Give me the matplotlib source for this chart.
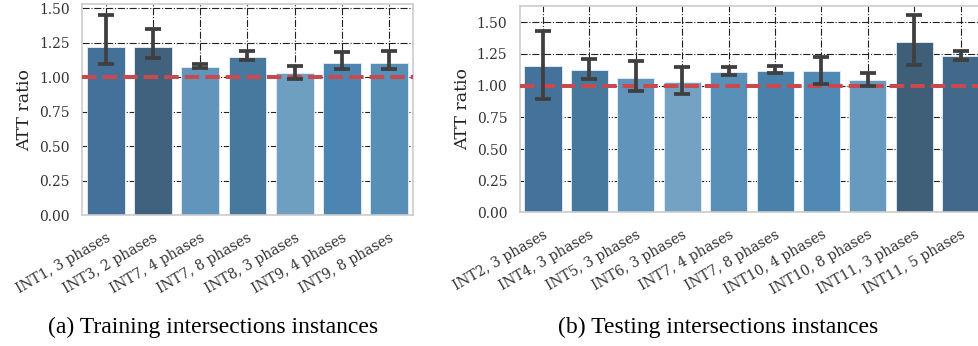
import numpy as np
import matplotlib
matplotlib.use("Agg")
import matplotlib.pyplot as plt
from matplotlib.colors import LinearSegmentedColormap

# training intersections
train_labels = ["INT1, 3 phases", "INT3, 2 phases", "INT7, 4 phases", "INT7, 8 phases",
                "INT8, 3 phases", "INT9, 4 phases", "INT9, 8 phases"]
train_mean = [1.216, 1.223, 1.074, 1.149, 1.033, 1.106, 1.105]
train_low = [1.096, 1.137, 1.067, 1.122, 0.986, 1.063, 1.058]
train_high = [1.452, 1.353, 1.098, 1.192, 1.079, 1.180, 1.187]

# testing intersections
test_labels = ["INT2, 3 phases", "INT4, 3 phases", "INT5, 3 phases", "INT6, 3 phases",
               "INT7, 4 phases", "INT7, 8 phases", "INT10, 4 phases", "INT10, 8 phases",
               "INT11, 3 phases", "INT11, 5 phases"]
test_mean = [1.153, 1.124, 1.058, 1.027, 1.110, 1.113, 1.112, 1.042, 1.345, 1.232]
test_low = [0.893, 1.053, 0.956, 0.932, 1.087, 1.100, 1.013, 0.998, 1.161, 1.203]
test_high = [1.429, 1.211, 1.192, 1.148, 1.150, 1.155, 1.229, 1.100, 1.555, 1.276]

captions = ["(a) Training intersections instances", "(b) Testing intersections instances"]

# darker bar = larger ratio
blues = LinearSegmentedColormap.from_list('blues_rank', [
    (0.0, '#7eabc7'), (0.2, '#6598bd'), (0.36, '#5990b8'), (0.5, '#4c85b2'),
    (0.63, '#47799f'), (0.75, '#44719a'), (0.9, '#3f5f79'), (1.0, '#3c5a72')])


def rank_colors(values):
    n = len(values)
    pos = np.linspace(0, 1, n + 2)[1:-1]
    rank = np.argsort(np.argsort(values))
    return [blues(pos[r]) for r in rank]


def panel(ax, labels, mean, low, high, ytop):
    x = np.arange(len(labels))
    mean = np.array(mean)
    ax.set_axisbelow(True)
    ax.grid(True, linestyle='-.', color='#222222', linewidth=0.8)
    ax.bar(x, mean, width=0.8, color=rank_colors(mean), edgecolor='#e8eef4', linewidth=0.6, zorder=2)
    ax.axhline(1.0, color='#c9494f', linestyle='--', dashes=(3.6, 1.5), linewidth=2.9, zorder=3)
    err = [mean - np.array(low), np.array(high) - mean]
    ax.errorbar(x, mean, yerr=err, fmt='none', ecolor='#3f3f3f', elinewidth=2.7,
                capsize=5.5, capthick=2.7, zorder=4)
    ax.set_xlim(-0.5, len(labels) - 0.5)
    ax.set_ylim(0, ytop)
    yt = np.arange(0, 1.51, 0.25)
    ax.set_yticks(yt)
    ax.set_yticklabels([f'{v:.2f}' for v in yt], fontsize=10, family='DejaVu Serif', color='#333333')
    ax.set_xticks(x)
    ax.set_xticklabels(labels, rotation=30, ha='right', rotation_mode='anchor', fontsize=10,
                       family='DejaVu Serif', color='#333333')
    ax.tick_params(axis='x', length=0, pad=11)
    ax.tick_params(axis='y', length=0, pad=9)
    ax.set_ylabel('ATT ratio', fontsize=12.5, family='DejaVu Serif', color='#222222')
    for s in ax.spines.values():
        s.set_color('#cccccc')
        s.set_linewidth(1.2)


fig = plt.figure(figsize=(9.79, 3.46), dpi=100)
ax1 = fig.add_axes([0.0838, 0.378, 0.338, 0.610])
ax2 = fig.add_axes([0.531, 0.386, 0.474, 0.597])

panel(ax1, train_labels, train_mean, train_low, train_high, 1.53)
panel(ax2, test_labels, test_mean, test_low, test_high, 1.628)

fig.text(0.218, 0.055, captions[0], ha='center', va='center', fontsize=17, family='Liberation Serif')
fig.text(0.734, 0.055, captions[1], ha='center', va='center', fontsize=17, family='Liberation Serif')

fig.savefig('out.png', dpi=100)
